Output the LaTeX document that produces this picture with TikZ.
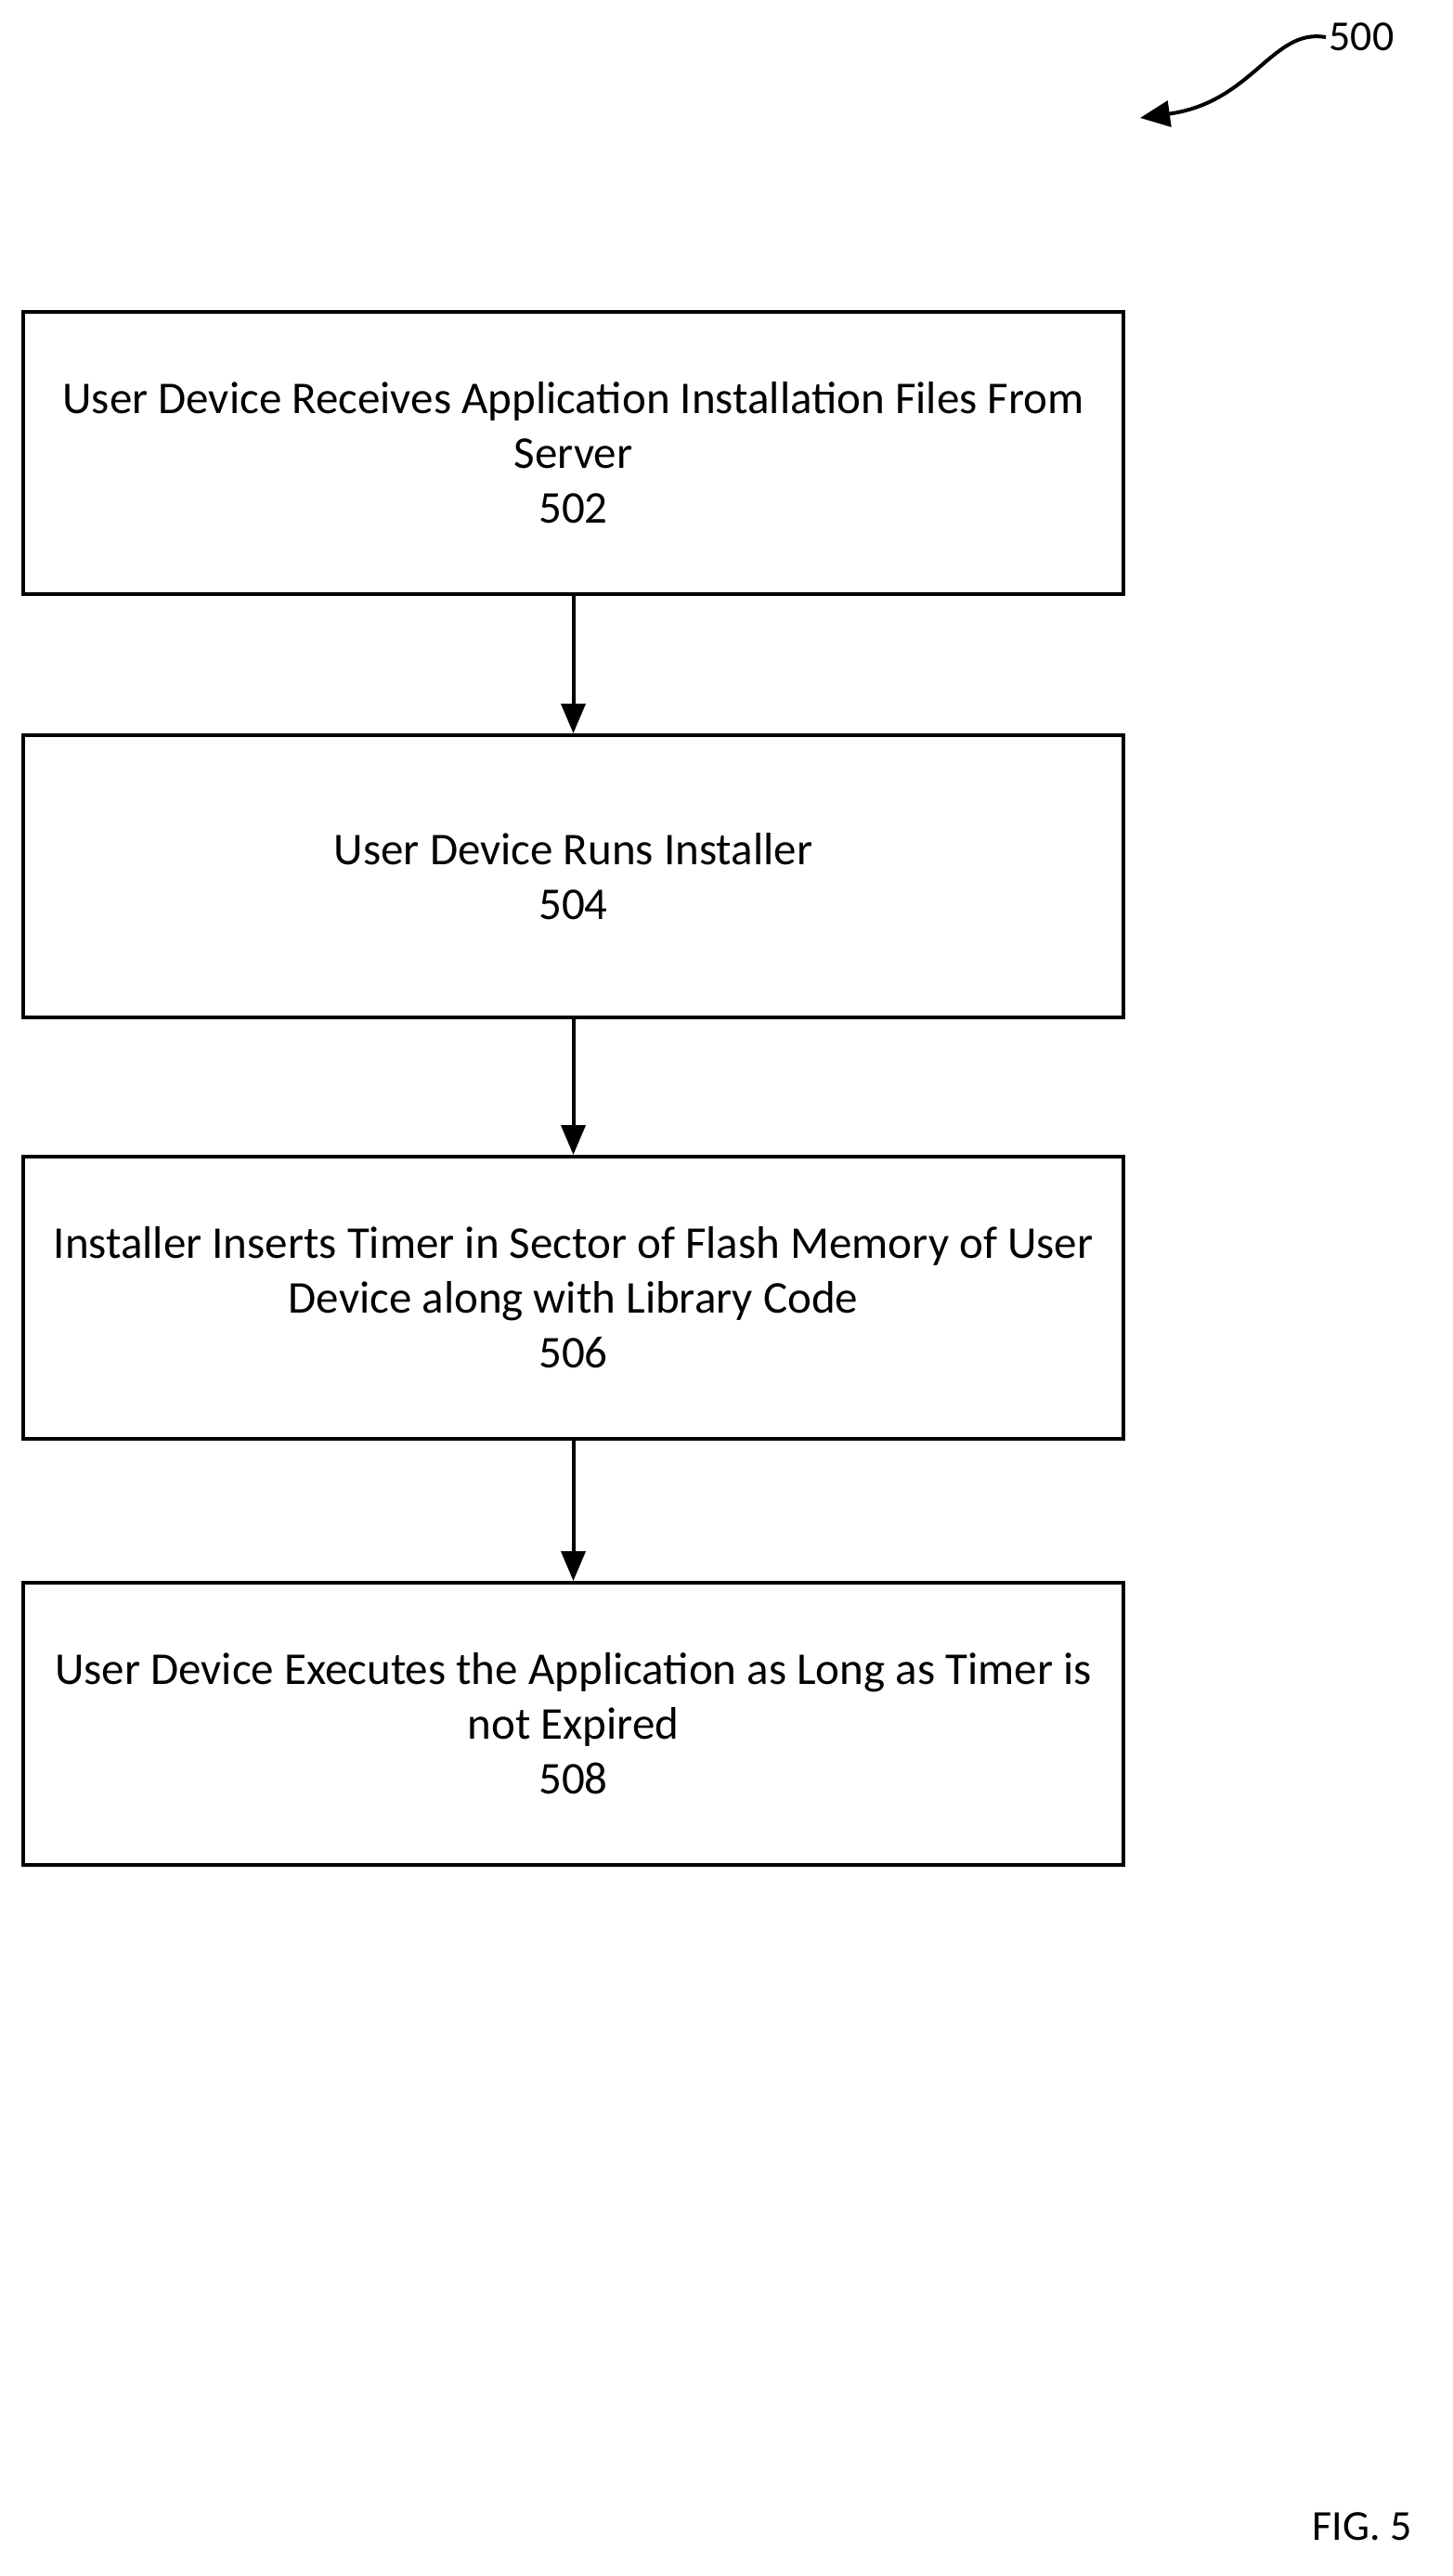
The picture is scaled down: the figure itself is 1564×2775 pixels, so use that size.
\documentclass[tikz,border=0pt]{standalone}
\usepackage{fontspec}
\setmainfont{Carlito}
\usetikzlibrary{arrows.meta}
\begin{document}
\begin{tikzpicture}[x=1pt,y=-1pt,
  box/.style={draw,line width=4pt,minimum width=1185pt,minimum height=304pt,align=center,font=\fontsize{49}{59}\selectfont,inner sep=0pt},
  arr/.style={line width=4pt,-{Triangle[length=32pt,width=26pt]}},
  lbl/.style={font=\fontsize{46}{52}\selectfont}]
\useasboundingbox (0,0) rectangle (1564,2775);
\node[box] (b1) at (617.5,488) {User Device Receives Application Installation Files From\\Server\\502};
\node[box] (b2) at (617.5,944) {User Device Runs Installer\\504};
\node[box] (b3) at (617.5,1398) {Installer Inserts Timer in Sector of Flash Memory of User\\Device along with Library Code\\506};
\node[box] (b4) at (617.5,1857) {User Device Executes the Application as Long as Timer is\\not Expired\\508};
\draw[arr] (b1) -- (b2);
\draw[arr] (b2) -- (b3);
\draw[arr] (b3) -- (b4);
\node[lbl,anchor=west] (n500) at (1428,40) {500};
\coordinate (c500) at (1228,127);
\draw[line width=4pt,-{Triangle[length=32pt,width=28pt]}] (n500.west) .. controls (1370,30) and (1350,110) .. (c500);
\node[lbl] (fig) at (1467,2722) {FIG. 5};
\end{tikzpicture}
\end{document}
